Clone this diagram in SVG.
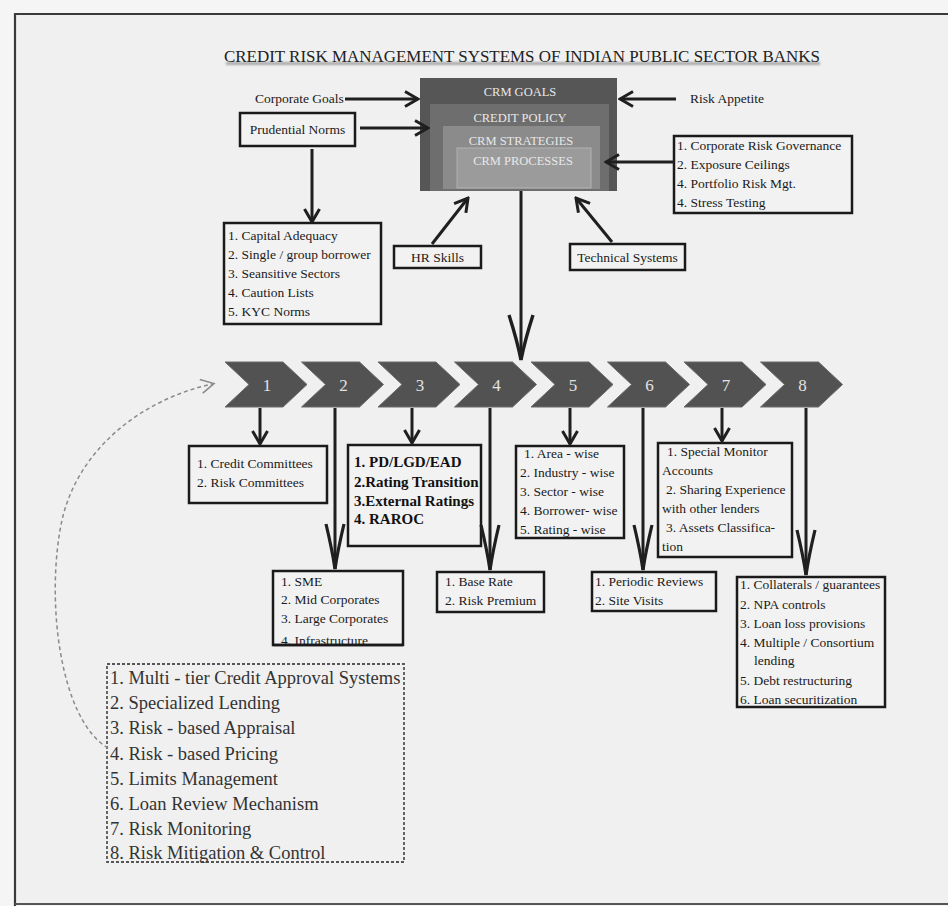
<svg xmlns="http://www.w3.org/2000/svg" width="948" height="906" viewBox="0 0 948 906">
<defs>
<style>
.t{font-family:'Liberation Serif','Times New Roman',serif;font-size:13.5px;fill:#1a1a1a}
.box{fill:#f2f2f2;stroke:#1a1a1a;stroke-width:2.5}
.con{stroke:#1f1f1f;stroke-width:3;fill:none}
.crm{font-family:'Liberation Serif','Times New Roman',serif;font-size:12.5px;fill:#e8e8e8;text-anchor:middle}
.chev{fill:#525252;stroke:#6a6a6a;stroke-width:1}
.num{font-family:'Liberation Serif','Times New Roman',serif;font-size:17px;fill:#e2e2e2;text-anchor:middle}
.big{font-family:'Liberation Serif','Times New Roman',serif;font-size:18.5px;fill:#333}
.bold{font-family:'Liberation Serif','Times New Roman',serif;font-size:15px;font-weight:bold;fill:#111}
.title{font-family:'Liberation Serif','Times New Roman',serif;font-size:16.5px}
</style>
<marker id="v" viewBox="0 0 16 18" refX="14" refY="9" markerWidth="16" markerHeight="18" markerUnits="userSpaceOnUse" orient="auto">
<path d="M1,1.5 L14,9 L1,16.5" fill="none" stroke="#1f1f1f" stroke-width="3"/>
</marker>
<marker id="vl" viewBox="0 0 48 22" refX="46" refY="11" markerWidth="48" markerHeight="22" markerUnits="userSpaceOnUse" orient="auto">
<path d="M1,2 Q26,8 46,11 Q26,14 1,20" fill="none" stroke="#1f1f1f" stroke-width="3.2"/>
</marker>
<marker id="vw" viewBox="0 0 48 28" refX="46" refY="14" markerWidth="48" markerHeight="28" markerUnits="userSpaceOnUse" orient="auto">
<path d="M1,2 Q26,10 46,14 Q26,18 1,26" fill="none" stroke="#1f1f1f" stroke-width="3.4"/>
</marker>
<path id="chevShape" d="M0,362 H58 L82,384.5 L58,407 H0 L24,384.5 Z"/>
<filter id="blur" x="-5%" y="-200%" width="110%" height="500%"><feGaussianBlur stdDeviation="1.2"/></filter>
</defs>

<rect x="0" y="0" width="948" height="906" fill="#f5f5f5"/>
<rect x="15" y="14" width="933" height="890" fill="#f0f0f0"/>
<path d="M15,906 V14 H948" fill="none" stroke="#3a3a3a" stroke-width="2.2"/>
<line x1="15" y1="904" x2="948" y2="904" stroke="#555" stroke-width="2"/>

<g id="title">
<rect x="226" y="62" width="594" height="3" fill="#a8a8a8" filter="url(#blur)"/>
<text class="title" x="224" y="62" textLength="596" lengthAdjust="spacingAndGlyphs" fill="#222">CREDIT RISK MANAGEMENT SYSTEMS OF INDIAN PUBLIC SECTOR BANKS</text>
</g>

<g id="crm-core">
<rect x="420" y="78" width="197" height="113" fill="#565656"/>
<rect x="430" y="104" width="179" height="87" fill="#6e6e6e"/>
<rect x="443" y="126" width="157" height="63" fill="#8b8b8b"/>
<rect x="457" y="148" width="134" height="40" fill="#9b9b9b" stroke="#b2b2b2" stroke-width="1"/>
<text class="crm" x="520" y="95.5">CRM GOALS</text>
<text class="crm" x="520" y="121.5">CREDIT POLICY</text>
<text class="crm" x="521" y="144.5" fill="#dedede">CRM STRATEGIES</text>
<text class="crm" x="523" y="164.5" fill="#dadada">CRM PROCESSES</text>
</g>

<g id="corporate-goals"><text class="t" x="255" y="103" font-size="13">Corporate Goals</text></g>
<g id="risk-appetite"><text class="t" x="690" y="103" font-size="13">Risk Appetite</text></g>
<g id="prudential-norms">
<rect class="box" x="240" y="113" width="115" height="33"/>
<text class="t" x="297.5" y="133.5" font-size="13" text-anchor="middle">Prudential Norms</text>
</g>
<g id="prudential-list">
<rect class="box" x="224" y="223" width="157" height="101"/>
<text class="t" x="228" y="240">1. Capital Adequacy</text>
<text class="t" x="228" y="259">2. Single / group borrower</text>
<text class="t" x="228" y="278">3. Seansitive Sectors</text>
<text class="t" x="228" y="297">4. Caution Lists</text>
<text class="t" x="228" y="316">5. KYC Norms</text>
</g>
<g id="governance-list">
<rect class="box" x="674" y="136" width="178" height="77"/>
<text class="t" x="677" y="150">1. Corporate Risk Governance</text>
<text class="t" x="677" y="169">2. Exposure Ceilings</text>
<text class="t" x="677" y="188">4. Portfolio Risk Mgt.</text>
<text class="t" x="677" y="207">4. Stress Testing</text>
</g>
<g id="hr-skills">
<rect class="box" x="394" y="246" width="87" height="22"/>
<text class="t" x="437.5" y="262" font-size="13" text-anchor="middle">HR Skills</text>
</g>
<g id="technical-systems">
<rect class="box" x="570" y="244" width="115" height="26"/>
<text class="t" x="627.5" y="261.5" text-anchor="middle">Technical Systems</text>
</g>

<g id="chevron-1"><use href="#chevShape" x="225" class="chev"/><text class="num" x="267" y="390.5">1</text></g>
<g id="chevron-2"><use href="#chevShape" x="301.5" class="chev"/><text class="num" x="343.5" y="390.5">2</text></g>
<g id="chevron-3"><use href="#chevShape" x="378" class="chev"/><text class="num" x="420" y="390.5">3</text></g>
<g id="chevron-4"><use href="#chevShape" x="454.5" class="chev"/><text class="num" x="496.5" y="390.5">4</text></g>
<g id="chevron-5"><use href="#chevShape" x="531" class="chev"/><text class="num" x="573" y="390.5">5</text></g>
<g id="chevron-6"><use href="#chevShape" x="607.5" class="chev"/><text class="num" x="649.5" y="390.5">6</text></g>
<g id="chevron-7"><use href="#chevShape" x="684" class="chev"/><text class="num" x="726" y="390.5">7</text></g>
<g id="chevron-8"><use href="#chevShape" x="760.5" class="chev"/><text class="num" x="802.5" y="390.5">8</text></g>

<g id="committees">
<rect class="box" x="189" y="446" width="138" height="57"/>
<text class="t" x="197" y="468">1. Credit Committees</text>
<text class="t" x="197" y="487">2. Risk Committees</text>
</g>
<g id="rating-box">
<rect class="box" x="348" y="445" width="133" height="101"/>
<text class="bold" x="354" y="467">1. PD/LGD/EAD</text>
<text class="bold" x="354" y="487">2.Rating Transition</text>
<text class="bold" x="354" y="506">3.External Ratings</text>
<text class="bold" x="354" y="524">4. RAROC</text>
</g>
<g id="concentration-box">
<rect class="box" x="516" y="446" width="108" height="92"/>
<text class="t" x="524" y="458">1. Area - wise</text>
<text class="t" x="520" y="477">2. Industry - wise</text>
<text class="t" x="520" y="496">3. Sector - wise</text>
<text class="t" x="520" y="515">4. Borrower- wise</text>
<text class="t" x="520" y="534">5. Rating - wise</text>
</g>
<g id="monitor-box">
<rect class="box" x="658" y="443" width="134" height="114"/>
<text class="t" x="667" y="456">1. Special Monitor</text>
<text class="t" x="662" y="475">Accounts</text>
<text class="t" x="666" y="494">2. Sharing Experience</text>
<text class="t" x="662" y="513">with other lenders</text>
<text class="t" x="666" y="532">3. Assets Classifica-</text>
<text class="t" x="662" y="551">tion</text>
</g>
<g id="segment-box">
<rect class="box" x="273" y="571" width="130" height="74"/>
<text class="t" x="281" y="586">1. SME</text>
<text class="t" x="281" y="604">2. Mid Corporates</text>
<text class="t" x="281" y="623">3. Large Corporates</text>
<text class="t" x="281" y="645">4. Infrastructure</text>
<line x1="273" y1="645" x2="403" y2="645" stroke="#1a1a1a" stroke-width="2.5"/>
</g>
<g id="pricing-box">
<rect class="box" x="437" y="572" width="107" height="40"/>
<text class="t" x="445" y="586">1. Base Rate</text>
<text class="t" x="445" y="605">2. Risk Premium</text>
</g>
<g id="review-box">
<rect class="box" x="592" y="572" width="124" height="39"/>
<text class="t" x="595" y="586">1. Periodic Reviews</text>
<text class="t" x="595" y="605">2. Site Visits</text>
</g>
<g id="mitigation-box">
<rect class="box" x="737" y="577" width="148" height="130"/>
<text class="t" x="740" y="589">1. Collaterals / guarantees</text>
<text class="t" x="740" y="609">2. NPA controls</text>
<text class="t" x="740" y="628">3. Loan loss provisions</text>
<text class="t" x="740" y="647">4. Multiple / Consortium</text>
<text class="t" x="754" y="665">lending</text>
<text class="t" x="740" y="685">5. Debt restructuring</text>
<text class="t" x="740" y="704">6. Loan securitization</text>
</g>
<g id="process-list">
<rect x="107" y="664" width="297" height="198" fill="none" stroke="#555" stroke-width="1.8" stroke-dasharray="3 2"/>
<text class="big" x="110" y="683.5">1. Multi - tier Credit Approval Systems</text>
<text class="big" x="110" y="708.5">2. Specialized  Lending</text>
<text class="big" x="110" y="733.5">3. Risk - based Appraisal</text>
<text class="big" x="110" y="759.5">4. Risk - based Pricing</text>
<text class="big" x="110" y="784.5">5. Limits Management</text>
<text class="big" x="110" y="809.5">6. Loan Review Mechanism</text>
<text class="big" x="110" y="834.5">7. Risk Monitoring</text>
<text class="big" x="110" y="858.5">8. Risk Mitigation &amp; Control</text>
</g>

<g id="connectors">
<line class="con" x1="345" y1="99" x2="418" y2="99" marker-end="url(#v)"/>
<line class="con" x1="360" y1="128" x2="428" y2="128" marker-end="url(#v)"/>
<line class="con" x1="676" y1="99" x2="620" y2="99" marker-end="url(#v)"/>
<line class="con" x1="674" y1="162" x2="606" y2="162" marker-end="url(#v)"/>
<line class="con" x1="432" y1="244" x2="468" y2="198" marker-end="url(#v)" stroke-width="2.6"/>
<line class="con" x1="612" y1="242" x2="576" y2="198" marker-end="url(#v)" stroke-width="2.6"/>
<line class="con" x1="312" y1="149" x2="312" y2="222" marker-end="url(#v)"/>
<line class="con" x1="521" y1="191" x2="521" y2="360" marker-end="url(#vw)"/>
<line class="con" x1="260" y1="408" x2="260" y2="444" marker-end="url(#v)" stroke-width="2.6"/>
<line class="con" x1="412" y1="408" x2="412" y2="443" marker-end="url(#v)" stroke-width="2.6"/>
<line class="con" x1="570" y1="408" x2="570" y2="444" marker-end="url(#v)" stroke-width="2.6"/>
<line class="con" x1="722" y1="408" x2="722" y2="441" marker-end="url(#v)" stroke-width="2.6"/>
<line class="con" x1="335" y1="408" x2="335" y2="569" marker-end="url(#vl)" stroke-width="2.6"/>
<line class="con" x1="490" y1="408" x2="490" y2="570" marker-end="url(#vl)" stroke-width="2.6"/>
<line class="con" x1="643" y1="408" x2="643" y2="570" marker-end="url(#vl)" stroke-width="2.6"/>
<line class="con" x1="806" y1="408" x2="806" y2="575" marker-end="url(#vl)" stroke-width="2.6"/>
<path d="M108,748 C60,720 45,600 62,520 C78,450 140,400 212,384" fill="none" stroke="#8a8a8a" stroke-width="1.5" stroke-dasharray="4 3"/>
<polyline points="199.8,379.5 214,383.5 202.8,393.1" fill="none" stroke="#8a8a8a" stroke-width="1.6"/>
</g>
</svg>
